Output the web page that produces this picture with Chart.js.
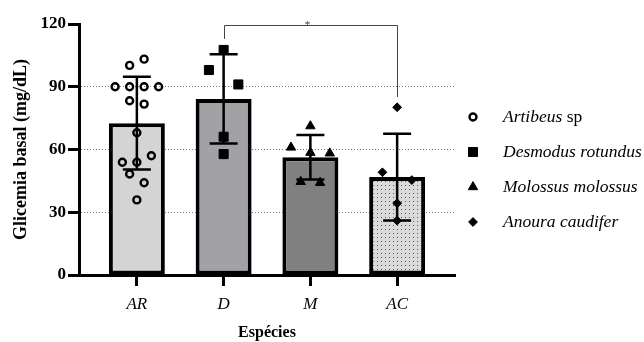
<!DOCTYPE html>
<html><head><meta charset="utf-8">
<script src="https://cdn.jsdelivr.net/npm/chart.js@4/dist/chart.umd.min.js"></script>
<style>html,body{margin:0;padding:0;background:#fff;overflow:hidden}#wrap{width:644px;height:342px;position:relative}</style>
</head><body><div id="wrap"><canvas id="c" width="644" height="342"></canvas></div>
<script>
// ---- data ----
const categories = ['AR', 'D', 'M', 'AC'];
const speciesNames = ['Artibeus sp', 'Desmodus rotundus', 'Molossus molossus', 'Anoura caudifer'];
const meanValues = [72.6, 84.2, 56.3, 46.8];
const sdValues = [22.2, 21.3, 10.6, 20.7];
const pointsAR = [100.2, 103.2, 90, 90, 90, 90, 83.3, 81.7, 68, 53.9, 53.9, 57, 48.3, 44.1, 35.9];
const pointsD = [107.6, 98, 91.1, 66.1, 57.8];
const pointsM = [71.2, 61, 58.5, 58.2, 44.6, 44.1];
const pointsAC = [80.2, 49.1, 45.4, 34.3, 26];
const yTicks = [0, 30, 60, 90, 120];
const comparisons = [{a: 'D', b: 'AC', label: '*'}];

const FF = "'Liberation Serif', 'Times New Roman', serif";
const canvas = document.getElementById('c');

function dotPattern() {
  const p = document.createElement('canvas'); p.width = 4; p.height = 4;
  const g = p.getContext('2d');
  g.fillStyle = '#dadada'; g.fillRect(0, 0, 4, 4);
  g.fillStyle = '#5a5a5a'; g.fillRect(1, 1, 1, 1);
  return canvas.getContext('2d').createPattern(p, 'repeat');
}

const toPts = (cat, arr) => arr.map(v => ({x: categories.indexOf(cat), y: v}));

const errorBarPlugin = {
  id: 'errorBars',
  afterDatasetDraw(chart, args) {
    if (args.index !== 0) return;
    const ctx = chart.ctx, xs = chart.scales.x, ys = chart.scales.y;
    ctx.save(); ctx.strokeStyle = '#000'; ctx.lineWidth = 2.5;
    meanValues.forEach((m, i) => {
      const cx = xs.getPixelForValue(i);
      const t = ys.getPixelForValue(m + sdValues[i]), b = ys.getPixelForValue(m - sdValues[i]);
      ctx.beginPath();
      ctx.moveTo(cx, t); ctx.lineTo(cx, b);
      ctx.moveTo(cx - 14, t); ctx.lineTo(cx + 14, t);
      ctx.moveTo(cx - 14, b); ctx.lineTo(cx + 14, b);
      ctx.stroke();
    });
    ctx.restore();
  }
};

const spreadPlugin = {
  id: 'spread',
  afterDatasetsUpdate(chart) {
    const ys = chart.scales.y;
    chart.data.datasets.forEach((ds, di) => {
      if (ds.type !== 'scatter') return;
      const meta = chart.getDatasetMeta(di);
      const vals = ds.data.map(p => p.y);
      const order = vals.map((v, i) => i).sort((a, b) => vals[b] - vals[a]);
      const rows = []; let cur = null;
      order.forEach(i => {
        const py = ys.getPixelForValue(vals[i]);
        if (!cur || py - cur.start > ds.spreadRow) { cur = {start: py, idx: []}; rows.push(cur); }
        cur.idx.push(i);
      });
      rows.forEach(r => {
        r.idx.sort((a, b) => a - b);
        const n = r.idx.length;
        r.idx.forEach((i, k) => { meta.data[i].x += (k - (n - 1) / 2) * ds.spreadGap; });
      });
    });
  }
};

function drawMarker(ctx, ds, x, y) {
  ctx.save();
  ctx.fillStyle = ds.backgroundColor; ctx.strokeStyle = ds.borderColor; ctx.lineWidth = ds.borderWidth;
  if (Chart.helpers && Chart.helpers.drawPoint) {
    Chart.helpers.drawPoint(ctx, {pointStyle: ds.pointStyle, rotation: 0, radius: ds.pointRadius, borderWidth: ds.borderWidth}, x, y);
  } else {
    ctx.beginPath(); ctx.arc(x, y, ds.pointRadius, 0, Math.PI * 2); ctx.fill(); ctx.stroke();
  }
  ctx.restore();
}

const legendPlugin = {
  id: 'sideLegend',
  afterDraw(chart) {
    const ctx = chart.ctx, ca = chart.chartArea;
    const mx = ca.right + 18, tx = ca.right + 48;
    let yy = ca.top + 93;
    chart.data.datasets.forEach(ds => {
      if (ds.type !== 'scatter') return;
      drawMarker(ctx, ds, mx, yy);
      const lab = ds.label;
      const parts = lab.endsWith(' sp') ? [[lab.slice(0, -3), 'italic'], [' sp', 'normal']] : [[lab, 'italic']];
      ctx.save(); ctx.fillStyle = '#000'; ctx.textBaseline = 'middle'; ctx.textAlign = 'left';
      let x = tx;
      parts.forEach(([t, st]) => {
        ctx.font = st + ' 17.5px ' + FF;
        ctx.fillText(t, x, yy);
        x += ctx.measureText(t).width;
      });
      ctx.restore();
      yy += 35;
    });
  }
};

const sigPlugin = {
  id: 'significance',
  afterDraw(chart) {
    const ctx = chart.ctx, xs = chart.scales.x, ys = chart.scales.y;
    const pts = {AR: pointsAR, D: pointsD, M: pointsM, AC: pointsAC};
    comparisons.forEach(c => {
      const ia = categories.indexOf(c.a), ib = categories.indexOf(c.b);
      const xa = xs.getPixelForValue(ia), xb = xs.getPixelForValue(ib);
      const yl = ys.getPixelForValue(119.5);
      const ya = ys.getPixelForValue(Math.max(...pts[c.a])) - 11;
      const yb = ys.getPixelForValue(Math.max(...pts[c.b])) - 10;
      ctx.save(); ctx.strokeStyle = '#444'; ctx.lineWidth = 1;
      ctx.beginPath();
      ctx.moveTo(Math.round(xa) + 0.5, ya); ctx.lineTo(Math.round(xa) + 0.5, Math.round(yl) + 0.5);
      ctx.lineTo(Math.round(xb) + 0.5, Math.round(yl) + 0.5); ctx.lineTo(Math.round(xb) + 0.5, yb);
      ctx.stroke();
      ctx.fillStyle = '#333'; ctx.font = '11px ' + FF; ctx.textAlign = 'center'; ctx.textBaseline = 'alphabetic';
      ctx.fillText(c.label, (xa + xb) / 2 - 3, yl + 3);
      ctx.restore();
    });
  }
};

new Chart(canvas, {
  type: 'bar',
  data: {
    datasets: [
      {type: 'bar', label: 'mean', data: meanValues.map((m, i) => ({x: i, y: m})), order: 10,
       backgroundColor: ['#d4d4d4', '#a2a2a6', '#808080', dotPattern()],
       borderColor: '#000', borderWidth: 4, borderSkipped: false,
       barPercentage: 0.645, categoryPercentage: 1},
      {type: 'scatter', label: speciesNames[0], data: toPts('AR', pointsAR), order: 0,
       pointStyle: 'circle', pointRadius: 3.5, borderWidth: 2.4, backgroundColor: 'rgba(255,255,255,0)', borderColor: '#000',
       spreadRow: 11, spreadGap: 14.5},
      {type: 'scatter', label: speciesNames[1], data: toPts('D', pointsD), order: 0,
       pointStyle: 'rect', pointRadius: 6.4, borderWidth: 1, backgroundColor: '#000', borderColor: '#000',
       spreadRow: 15, spreadGap: 29.4},
      {type: 'scatter', label: speciesNames[2], data: toPts('M', pointsM), order: 0,
       pointStyle: 'triangle', pointRadius: 5.4, borderWidth: 1, backgroundColor: '#000', borderColor: '#000',
       spreadRow: 11, spreadGap: 19.4},
      {type: 'scatter', label: speciesNames[3], data: toPts('AC', pointsAC), order: 0,
       pointStyle: 'rectRot', pointRadius: 4.4, borderWidth: 1, backgroundColor: '#000', borderColor: '#000',
       spreadRow: 11, spreadGap: 29.4}
    ]
  },
  options: {
    responsive: false, animation: false, events: [],
    layout: {padding: {left: 0, top: 24, right: 189, bottom: 0}},
    plugins: {legend: {display: false}, tooltip: {enabled: false}},
    scales: {
      x: {
        type: 'linear', min: -0.667, max: categories.length - 1 + 0.667, offset: false,
        afterBuildTicks: s => { s.ticks = categories.map((c, i) => ({value: i})); },
        grid: {offset: false, drawOnChartArea: false, drawTicks: true, tickLength: 11, tickWidth: 3, tickColor: '#000', color: '#000', lineWidth: 1},
        border: {display: true, width: 3, color: '#000'},
        ticks: {autoSkip: false, maxRotation: 0, callback: v => categories[v], font: {family: FF, size: 17, style: 'italic'}, color: '#000', padding: 8},
        title: {display: true, text: 'Espécies', font: {family: FF, size: 16, weight: 'bold'}, color: '#000', padding: {top: 0, bottom: 0}},
        afterFit: s => { s.height = 67; }
      },
      y: {
        type: 'linear', min: yTicks[0], max: yTicks[yTicks.length - 1],
        afterBuildTicks: s => { s.ticks = yTicks.map(v => ({value: v})); },
        ticks: {font: {family: FF, size: 17, weight: 'bold'}, color: '#000', padding: 2},
        grid: {color: c => (c.tick && (c.tick.value === 0 || c.tick.value === 120)) ? 'rgba(0,0,0,0)' : '#7a7a7a',
               lineWidth: 1, tickLength: 11, tickWidth: 3, tickColor: '#000', tickBorderDash: []},
        border: {display: true, width: 3, color: '#000', dash: [1, 2]},
        title: {display: true, text: 'Glicemia basal (mg/dL)', font: {family: FF, size: 18, weight: 'bold'}, color: '#000', padding: {top: 11, bottom: 0}},
        afterFit: s => { s.width = 79; }
      }
    }
  },
  plugins: [spreadPlugin, errorBarPlugin, sigPlugin, legendPlugin]
});
</script>
</body></html>
